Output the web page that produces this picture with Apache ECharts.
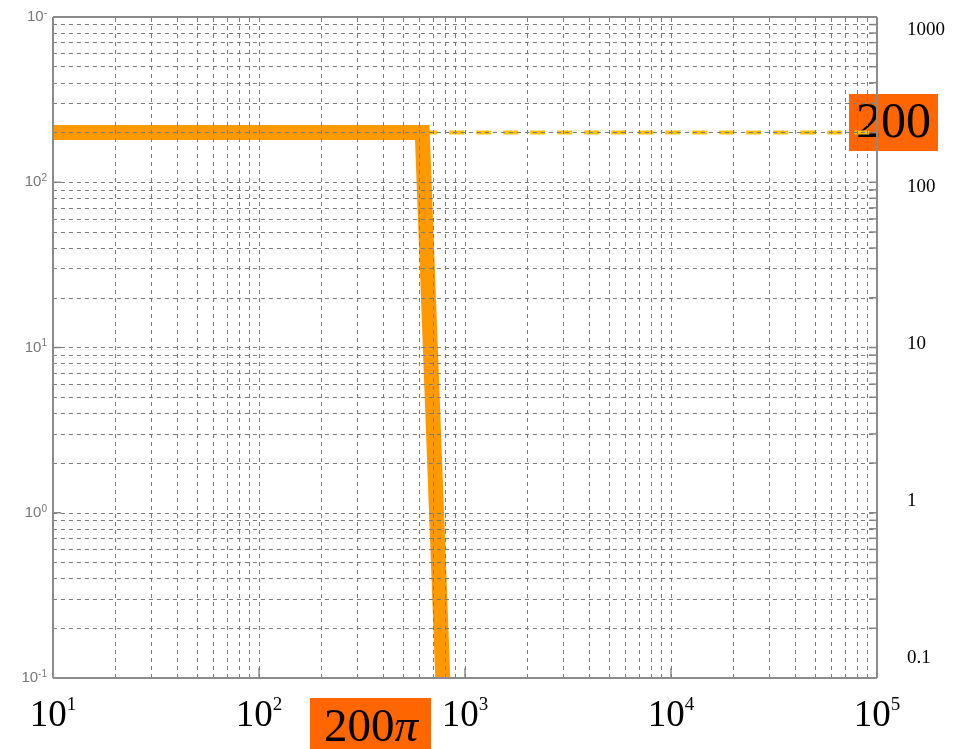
<!DOCTYPE html>
<html>
<head>
<meta charset="utf-8">
<script src="https://cdn.jsdelivr.net/npm/echarts@6/dist/echarts.min.js"></script>
<style>html,body{margin:0;padding:0;background:#fff}#c{width:971px;height:749px}</style>
</head>
<body>
<div id="c"></div>
<script>
// ---- data ----
var responseX = [10, 620, 780];
var responseY = [200, 200, 0.1];
var asymptoteX = [620, 100000];
var asymptoteY = [200, 200];
var xMajor = [10, 100, 1000, 10000, 100000];
var xMajorLabels = ['1', '2', '3', '4', '5'];
var yMajor = [0.1, 1, 10, 100, 1000];
var yLeftLabels = ['-1', '0', '1', '2', '-'];
var yRightLabels = ['0.1', '1', '10', '100', '1000'];
var levelLabel = '200';
var cornerLabel = '200';
var cornerSymbol = 'π';

function decadeGrid(lo, hi) {
  var out = [];
  for (var d = lo; d < hi; d *= 10) {
    for (var k = 1; k <= 9; k++) out.push(d * k);
  }
  out.push(hi);
  return out;
}
var xGrid = decadeGrid(10, 100000);
var yGrid = decadeGrid(0.1, 1000);

var chart = echarts.init(document.getElementById('c'), null, {renderer: 'canvas'});

function pairs(xs, ys) { return xs.map(function (x, i) { return [x, ys[i]]; }); }
function idxOf(arr, v) {
  for (var i = 0; i < arr.length; i++) if (Math.abs(arr[i] - v) / v < 1e-6) return i;
  return -1;
}

var gridColor = '#7a7a7a';
var gridLineStyle = {color: gridColor, width: 1, type: [4, 4]};

// tick marks: [value, side, length]
var tickItems = [];
yGrid.slice(1, -1).forEach(function (v) { tickItems.push([v, 'right', 8]); });
yMajor.slice(1, -1).forEach(function (v) { tickItems.push([v, 'left', 8]); });
xMajor.slice(1, -1).forEach(function (v) { tickItems.push([v, 'bottom', 10]); });

var option = {
  animation: false,
  backgroundColor: '#fff',
  grid: [
    {left: 53, top: 17, width: 824, height: 661, show: false},
    {left: 53, top: 30, width: 824, height: 628, show: false}
  ],
  xAxis: [
    {
      type: 'log', gridIndex: 0, min: 10, max: 100000, logBase: 10,
      axisLine: {show: false}, axisTick: {show: false}, splitLine: {show: false},
      axisLabel: {
        margin: 18,
        formatter: function (v) {
          var i = idxOf(xMajor, v);
          if (i < 0) return '';
          return '{b|10}{s|' + xMajorLabels[i] + '}';
        },
        rich: {
          b: {fontFamily: 'Liberation Serif', fontSize: 37, lineHeight: 40, color: '#000'},
          s: {fontFamily: 'Liberation Serif', fontSize: 19, lineHeight: 19, color: '#000', verticalAlign: 'top'}
        }
      }
    },
    {type: 'log', gridIndex: 1, min: 10, max: 100000, show: false}
  ],
  yAxis: [
    {
      type: 'log', gridIndex: 0, min: 0.1, max: 1000, logBase: 10,
      axisLine: {show: false}, axisTick: {show: false}, splitLine: {show: false},
      axisLabel: {
        margin: 6,
        formatter: function (v) {
          var i = idxOf(yMajor, v);
          if (i < 0) return '';
          return '{b|10}{s|' + yLeftLabels[i] + '}';
        },
        rich: {
          b: {fontFamily: 'Liberation Sans', fontSize: 15, lineHeight: 18, color: '#777'},
          s: {fontFamily: 'Liberation Sans', fontSize: 10, lineHeight: 10, color: '#777', verticalAlign: 'top'}
        }
      }
    },
    {
      type: 'log', gridIndex: 1, min: 0.1, max: 1000, logBase: 10, position: 'right',
      axisLine: {show: false}, axisTick: {show: false}, splitLine: {show: false},
      axisLabel: {
        margin: 30, align: 'left',
        fontFamily: 'Liberation Serif', fontSize: 19, color: '#000',
        formatter: function (v) {
          var i = idxOf(yMajor, v);
          return i < 0 ? '' : yRightLabels[i];
        }
      }
    }
  ],
  series: [
    {
      type: 'line', xAxisIndex: 0, yAxisIndex: 0, data: [], silent: true,
      markLine: {
        silent: true, symbol: ['none', 'none'], label: {show: false},
        lineStyle: gridLineStyle, animation: false,
        data: xGrid.slice(1, -1).map(function (v) { return {xAxis: v}; })
          .concat(yGrid.slice(1, -1).map(function (v) { return {yAxis: v}; }))
      }
    },
    {
      type: 'line', xAxisIndex: 0, yAxisIndex: 0, data: [], silent: true,
      markLine: {
        silent: true, symbol: ['none', 'none'], label: {show: false},
        lineStyle: {color: '#8a8a8a', width: 2, type: 'solid'}, animation: false,
        data: [{xAxis: 10}, {xAxis: 100000}, {yAxis: 0.1}, {yAxis: 1000}]
      }
    },
    {
      type: 'custom', xAxisIndex: 0, yAxisIndex: 0, silent: true, z: 2,
      data: tickItems.map(function (t) { return [t[0], t[2]]; }),
      renderItem: function (params, api) {
        var t = tickItems[params.dataIndex];
        var cs = params.coordSys;
        var v = t[0], len = t[2], x1, y1, x2, y2;
        if (t[1] === 'right' || t[1] === 'left') {
          var py = api.coord([10, v])[1];
          y1 = y2 = py;
          if (t[1] === 'right') { x1 = cs.x + cs.width; x2 = x1 - len; }
          else { x1 = cs.x; x2 = x1 + len; }
        } else {
          var px = api.coord([v, 1])[0];
          x1 = x2 = px;
          y1 = cs.y + cs.height; y2 = y1 - len;
        }
        return {type: 'line', shape: {x1: x1, y1: y1, x2: x2, y2: y2},
          style: {stroke: '#8a8a8a', lineWidth: 1.5}};
      }
    },
    {
      type: 'line', xAxisIndex: 0, yAxisIndex: 0,
      data: pairs(asymptoteX, asymptoteY), symbol: 'none', silent: true,
      lineStyle: {color: '#FFC000', width: 4, type: [15, 12]}, z: 3
    },
    {
      type: 'line', xAxisIndex: 0, yAxisIndex: 0,
      data: pairs(responseX, responseY), symbol: 'none', silent: true, clip: true,
      lineStyle: {color: '#FF9900', width: 15, join: 'miter', cap: 'butt'}, z: 4
    }
  ],
  graphic: [
    {
      type: 'group', left: 849, top: 94, z: 100,
      children: [
        {type: 'rect', shape: {x: 0, y: 0, width: 89, height: 57}, style: {fill: '#FF6600'}},
        {type: 'text', x: 44.5, y: 30, style: {text: levelLabel, fontFamily: 'Liberation Serif', fontSize: 50, fill: '#000', align: 'center', verticalAlign: 'middle'}}
      ]
    },
    {
      type: 'group', left: 310, top: 698, z: 100,
      children: [
        {type: 'rect', shape: {x: 0, y: 0, width: 121, height: 60}, style: {fill: '#FF6600'}},
        {type: 'text', x: 61, y: 31, style: {
          text: '{a|' + cornerLabel + '}{p|' + cornerSymbol + '}',
          align: 'center', verticalAlign: 'middle',
          rich: {
            a: {fontFamily: 'Liberation Serif', fontSize: 47, fill: '#000'},
            p: {fontFamily: 'Liberation Serif', fontSize: 47, fontStyle: 'italic', fill: '#000'}
          }
        }}
      ]
    }
  ]
};
chart.setOption(option);
</script>
</body>
</html>
